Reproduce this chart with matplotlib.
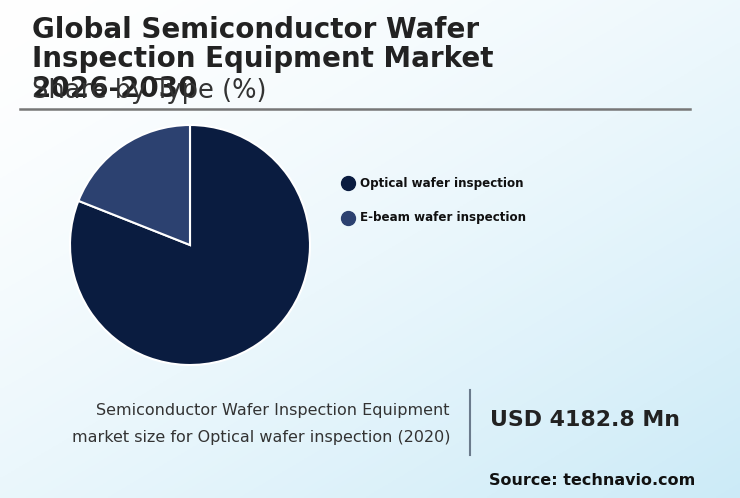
import matplotlib
matplotlib.use("Agg")
import matplotlib.pyplot as plt
import numpy as np
from matplotlib.lines import Line2D

categories = ["Optical wafer inspection", "E-beam wafer inspection"]
shares = [81, 19]
colors = ["#0a1c40", "#2c4170"]
title = "Global Semiconductor Wafer\nInspection Equipment Market\n2026-2030"
subtitle = "Share by Type (%)"
kpi_label = "Semiconductor Wafer Inspection Equipment\nmarket size for Optical wafer inspection (2020)"
kpi_value = "USD 4182.8 Mn"
source = "Source: technavio.com"

W, H = 740, 498
fig = plt.figure(figsize=(W / 100, H / 100), dpi=100)

# background gradient
bg = fig.add_axes([0, 0, 1, 1], zorder=-10)
xx, yy = np.meshgrid(np.linspace(0, 1, 200), np.linspace(0, 1, 200))
t = np.clip((xx * 0.7 + yy * 0.8) / 1.5, 0, 1) ** 1.4
c0 = np.array([1.0, 1.0, 1.0])
c1 = np.array([0.80, 0.92, 0.97])
img = c0[None, None, :] * (1 - t[..., None]) + c1[None, None, :] * t[..., None]
bg.imshow(img, extent=[0, 1, 0, 1], origin="upper", aspect="auto")
bg.set_axis_off()

def fx(px):
    return px / W

def fy(py):
    return 1 - py / H

fig.text(fx(32), fy(16), title, fontsize=20, fontweight="bold", color="#222222",
         ha="left", va="top", linespacing=1.06)
fig.text(fx(32), fy(98), subtitle, fontsize=18.5, color="#333333", ha="left", va="baseline")
fig.add_artist(Line2D([fx(20), fx(690)], [fy(109), fy(109)], color="#777777", lw=1.8))

# pie
r = 120
ax = fig.add_axes([fx(190 - r), fy(245 + r), 2 * r / W, 2 * r / H])
ax.pie(shares, colors=colors, startangle=90, counterclock=False,
       wedgeprops=dict(edgecolor="white", linewidth=1.5))
ax.set_aspect("equal")
ax.set_xlim(-1, 1)
ax.set_ylim(-1, 1)

# legend
for i, (cat, col) in enumerate(zip(categories, colors)):
    y = 183 + i * 35
    fig.add_artist(Line2D([fx(348)], [fy(y)], marker="o", markersize=10,
                          color=col, linestyle="none"))
    fig.text(fx(360), fy(y), cat, fontsize=8.6, fontweight="bold", color="#111111",
             ha="left", va="center")

# KPI
fig.text(fx(450), fy(424), kpi_label, fontsize=11.5, color="#333333", ha="right",
         va="center", linespacing=2.05)
fig.add_artist(Line2D([fx(470), fx(470)], [fy(390), fy(455)], color="#6b7b8c", lw=1.5))
fig.text(fx(490), fy(420), kpi_value, fontsize=15.8, fontweight="bold", color="#222222",
         ha="left", va="center")
fig.text(fx(695), fy(480), source, fontsize=11.5, fontweight="bold", color="#111111",
         ha="right", va="center")

fig.savefig("out.png", dpi=100)
